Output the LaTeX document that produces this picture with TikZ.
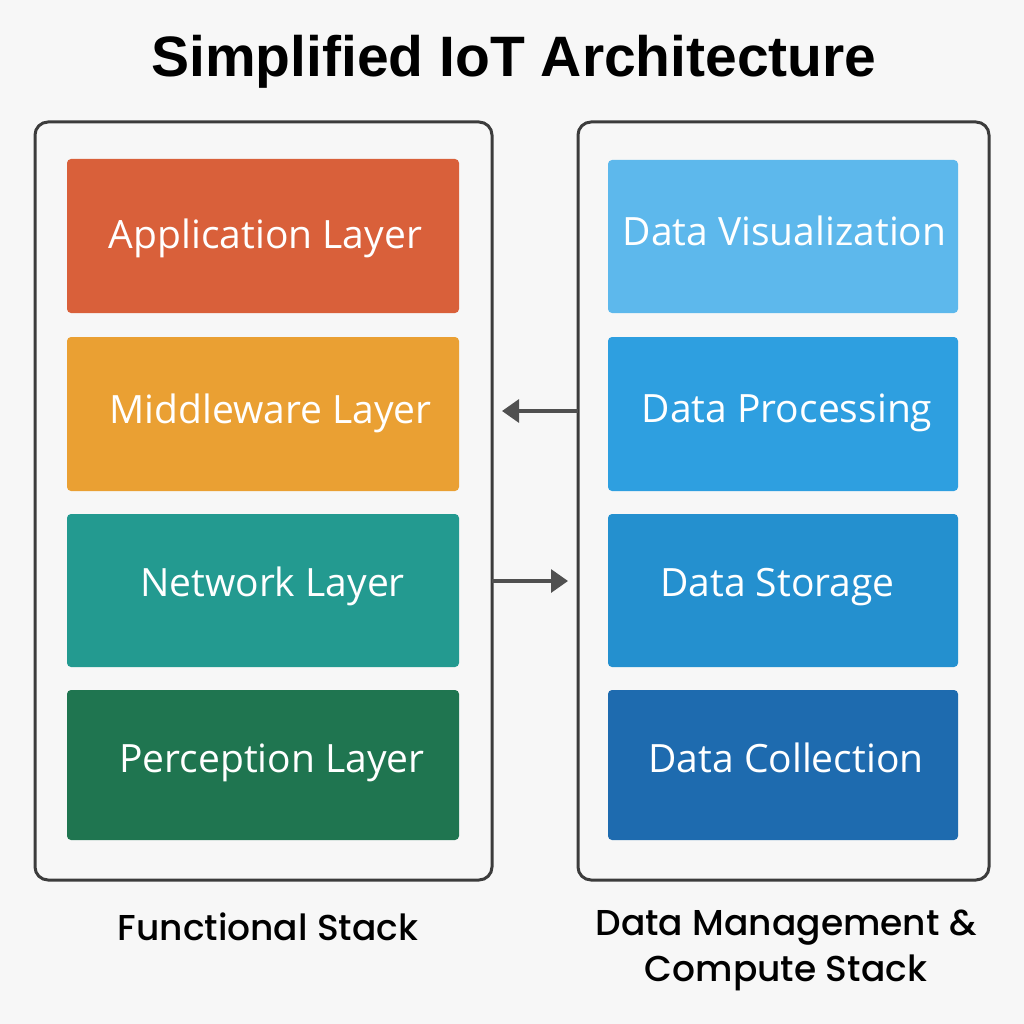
\documentclass[tikz,border=0pt]{standalone}
\usepackage{fontspec}
\setmainfont{Open Sans}
\newfontfamily\titlefont{Liberation Sans}
\newfontfamily\capfont{Poppins}[UprightFont=* Medium]
\usetikzlibrary{arrows.meta}
\definecolor{bg}{HTML}{F7F7F7}
\definecolor{frame}{HTML}{3C3C3C}
\definecolor{capp}{HTML}{D9603A}
\definecolor{cmid}{HTML}{EAA033}
\definecolor{cnet}{HTML}{239A90}
\definecolor{cper}{HTML}{1F7550}
\definecolor{cvis}{HTML}{5DB8EC}
\definecolor{cpro}{HTML}{2E9FE0}
\definecolor{csto}{HTML}{2490CF}
\definecolor{ccol}{HTML}{1E6BAF}
\tikzset{
  stackbox/.style={draw=frame, line width=3pt, rounded corners=13pt, fill=bg},
  layerbox/.style={rounded corners=4pt, inner sep=0pt},
  layertxt/.style={anchor=base, text=white, font=\fontsize{39}{44}\selectfont, inner sep=0pt},
  arr/.style={draw=frame!90, line width=3.2pt, -{Triangle[length=17pt,width=23pt]}},
  captxt/.style={font=\capfont\fontsize{36}{46}\selectfont, align=center, text=black}
}
\begin{document}
\begin{tikzpicture}[x=1pt,y=-1pt]
\fill[bg] (0,0) rectangle (1024,1024);
\useasboundingbox (0,0) rectangle (1024,1024);
\node[anchor=base, inner sep=0pt, font=\titlefont\bfseries\fontsize{57}{64}\selectfont] (title) at (514,77) {Simplified IoT Architecture};
% outer frames
\path[stackbox] (35,122) rectangle (492,880);
\node[inner sep=0pt, minimum width=457pt, minimum height=758pt] (lstack) at (263.5,501) {};
\path[stackbox] (578,122) rectangle (989,880);
\node[inner sep=0pt, minimum width=411pt, minimum height=758pt] (rstack) at (783.5,501) {};
% left layers
\node[layerbox, fill=capp, minimum width=392pt, minimum height=154pt] (app) at (263,236) {};
\node[layerbox, fill=cmid, minimum width=392pt, minimum height=154pt] (mid) at (263,414) {};
\node[layerbox, fill=cnet, minimum width=392pt, minimum height=153pt] (net) at (263,590.5) {};
\node[layerbox, fill=cper, minimum width=392pt, minimum height=150pt] (per) at (263,765) {};
\node[layertxt] (appt) at (265.5,248) {Application Layer};
\node[layertxt] (midt) at (270.5,423) {Middleware Layer};
\node[layertxt] (nett) at (272.5,596) {Network Layer};
\node[layertxt] (pert) at (272,772) {Perception Layer};
% right layers
\node[layerbox, fill=cvis, minimum width=350pt, minimum height=153pt] (vis) at (783,236.5) {};
\node[layerbox, fill=cpro, minimum width=350pt, minimum height=154pt] (pro) at (783,414) {};
\node[layerbox, fill=csto, minimum width=350pt, minimum height=153pt] (sto) at (783,590.5) {};
\node[layerbox, fill=ccol, minimum width=350pt, minimum height=150pt] (col) at (783,765) {};
\node[layertxt] (vist) at (784.5,245) {Data Visualization};
\node[layertxt] (prot) at (787,422) {Data Processing};
\node[layertxt] (stot) at (777.5,596) {Data Storage};
\node[layertxt] (colt) at (786,772) {Data Collection};
% arrows
\coordinate (a1) at (502,411);
\coordinate (a2) at (568,581);
\draw[arr] (a1 -| rstack.west) -- (a1);
\draw[arr] (a2 -| lstack.east) -- (a2);
% captions
\node[captxt] (lcap) at (268,927) {Functional Stack};
\node[captxt] (rcap) at (786,950) {Data Management \&\\Compute Stack};
\end{tikzpicture}
\end{document}
